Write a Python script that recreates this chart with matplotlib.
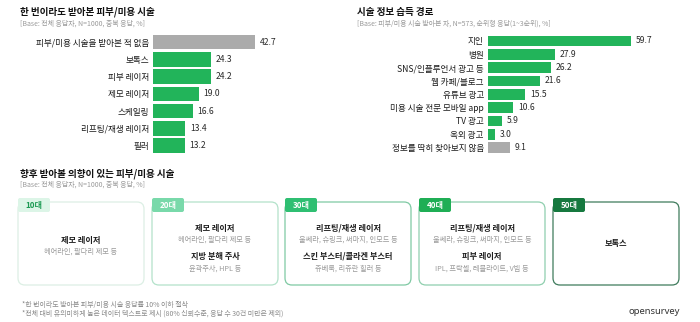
import matplotlib
matplotlib.use("Agg")
import matplotlib.pyplot as plt
from matplotlib.patches import FancyBboxPatch

plt.rcParams['font.family'] = ['Noto Sans CJK KR', 'DejaVu Sans']

### data
used_labels = ['피부/미용 시술을 받아본 적 없음', '보톡스', '피부 레이저', '제모 레이저',
               '스케일링', '리프팅/재생 레이저', '필러']
used_values = [42.7, 24.3, 24.2, 19.0, 16.6, 13.4, 13.2]
used_gray = [True, False, False, False, False, False, False]

source_labels = ['지인', '병원', 'SNS/인플루언서 광고 등', '웹 카페/블로그', '유튜브 광고',
                 '미용 시술 전문 모바일 app', 'TV 광고', '옥외 광고', '정보를 딱히 찾아보지 않음']
source_values = [59.7, 27.9, 26.2, 21.6, 15.5, 10.6, 5.9, 3.0, 9.1]
source_gray = [False, False, False, False, False, False, False, False, True]

ages = ['10대', '20대', '30대', '40대', '50대']
age_items = [
    [('제모 레이저', '헤어라인, 팔다리 제모 등')],
    [('제모 레이저', '헤어라인, 팔다리 제모 등'), ('지방 분해 주사', '윤곽주사, HPL 등')],
    [('리프팅/재생 레이저', '울쎄라, 슈링크, 써마지, 인모드 등'),
     ('스킨 부스터/콜라겐 부스터', '쥬베룩, 리쥬란 힐러 등')],
    [('리프팅/재생 레이저', '울쎄라, 슈링크, 써마지, 인모드 등'),
     ('피부 레이저', 'IPL, 프락셀, 레블라이트, V빔 등')],
    [('보톡스', None)],
]

### styles
GREEN = '#22b45a'
GRAY = '#ababab'
tag_bg = ['#dcf5e7', '#79d9aa', '#2fbf72', '#1fae55', '#16793f']
tag_fg = ['#1a9a52', 'white', 'white', 'white', 'white']
box_edge = ['#dcefe4', '#b3e2ca', '#7fc9a3', '#8fcfae', '#3f7b5c']

W, H = 700, 322
fig = plt.figure(figsize=(7, 3.22), dpi=100)


def px_axes(left, top, width, height):
    return fig.add_axes([left / W, 1 - (top + height) / H, width / W, height / H])


def bar_chart(ax, labels, values, grays, xmax, bar_h):
    y = list(range(len(values)))
    colors = [GRAY if g else GREEN for g in grays]
    ax.barh(y, values, height=bar_h, color=colors)
    for yi, v in zip(y, values):
        ax.text(v + 2.0, yi, f'{v:.1f}', va='center', ha='left', fontsize=6.2, color='#2a2a2a')
    ax.set_xlim(0, xmax)
    ax.set_ylim(len(values) - 0.5, -0.5)
    ax.set_yticks(y)
    ax.set_yticklabels(labels, fontsize=6.2, color='#1a1a1a')
    ax.tick_params(axis='both', which='both', length=0, pad=3)
    ax.set_xticks([])
    for s in ax.spines.values():
        s.set_visible(False)
    ax.patch.set_alpha(0)


### left bar chart
ax1 = px_axes(153, 33.4, 108, 120.75)
bar_chart(ax1, used_labels, used_values, used_gray, 45, 0.84)

### right bar chart
ax2 = px_axes(488, 34.3, 168, 120)
bar_chart(ax2, source_labels, source_values, source_gray, 70, 0.8)

### overlay axes in pixel coords for texts and panels
ov = fig.add_axes([0, 0, 1, 1])
ov.set_xlim(0, W)
ov.set_ylim(H, 0)
ov.axis('off')
ov.patch.set_alpha(0)

sub_kw = dict(fontsize=5.0, color='#9a9a9a', va='center', ha='left')
title_kw = dict(fontsize=6.9, fontweight='bold', color='#111111', va='center', ha='left')

ov.text(20, 12, '한 번이라도 받아본 피부/미용 시술', **title_kw)
ov.text(20, 24, '[Base: 전체 응답자, N=1000, 중복 응답, %]', **sub_kw)
ov.text(357, 12, '시술 정보 습득 경로', **title_kw)
ov.text(357, 24, '[Base: 피부/미용 시술 받아본 자, N=573, 순위형 응답(1~3순위), %]', **sub_kw)
ov.text(20, 174, '향후 받아볼 의향이 있는 피부/미용 시술', **title_kw)
ov.text(20, 185, '[Base: 전체 응답자, N=1000, 중복 응답, %]', **sub_kw)

### age panels
box_left = [18, 152, 285, 419, 553]
box_w = 126
box_top, box_bot = 202, 285
for i, age in enumerate(ages):
    x0 = box_left[i]
    box = FancyBboxPatch((x0, box_top), box_w, box_bot - box_top,
                         boxstyle='round,pad=0,rounding_size=7',
                         facecolor='white', edgecolor=box_edge[i], linewidth=0.9, zorder=2)
    ov.add_patch(box)
    tag = FancyBboxPatch((x0, 198), 32, 14, boxstyle='round,pad=0,rounding_size=2',
                         facecolor=tag_bg[i], edgecolor='none', zorder=3)
    ov.add_patch(tag)
    ov.text(x0 + 16, 205, age, fontsize=5.8, fontweight='bold', color=tag_fg[i],
            ha='center', va='center', zorder=4)
    cx = x0 + box_w / 2
    items = age_items[i]
    if len(items) == 2:
        ys = [228, 240, 256, 269]
    elif items[0][1] is None:
        ys = [243]
    else:
        ys = [240, 252]
    k = 0
    for name, desc in items:
        ov.text(cx, ys[k], name, fontsize=5.9, fontweight='bold', color='#1e1e1e',
                ha='center', va='center', zorder=4)
        k += 1
        if desc is not None:
            ov.text(cx, ys[k], desc, fontsize=5.2, color='#9a9a9a',
                    ha='center', va='center', zorder=4)
            k += 1

### footnotes
foot_kw = dict(fontsize=5.0, color='#8a8a8a', va='center', ha='left')
ov.text(22, 305, '*한 번이라도 받아본 피부/미용 시술 응답률 10% 이하 절삭', **foot_kw)
ov.text(22, 314, '*전체 대비 유의미하게 높은 데이터 텍스트로 제시 (80% 신뢰수준, 응답 수 30건 미만은 제외)', **foot_kw)
ov.text(680, 311, 'opensurvey', fontsize=6.8, fontweight='bold', color='#333333',
        ha='right', va='center', family=['Noto Sans', 'DejaVu Sans'])

plt.savefig('out.png', dpi=100)
plt.close(fig)
